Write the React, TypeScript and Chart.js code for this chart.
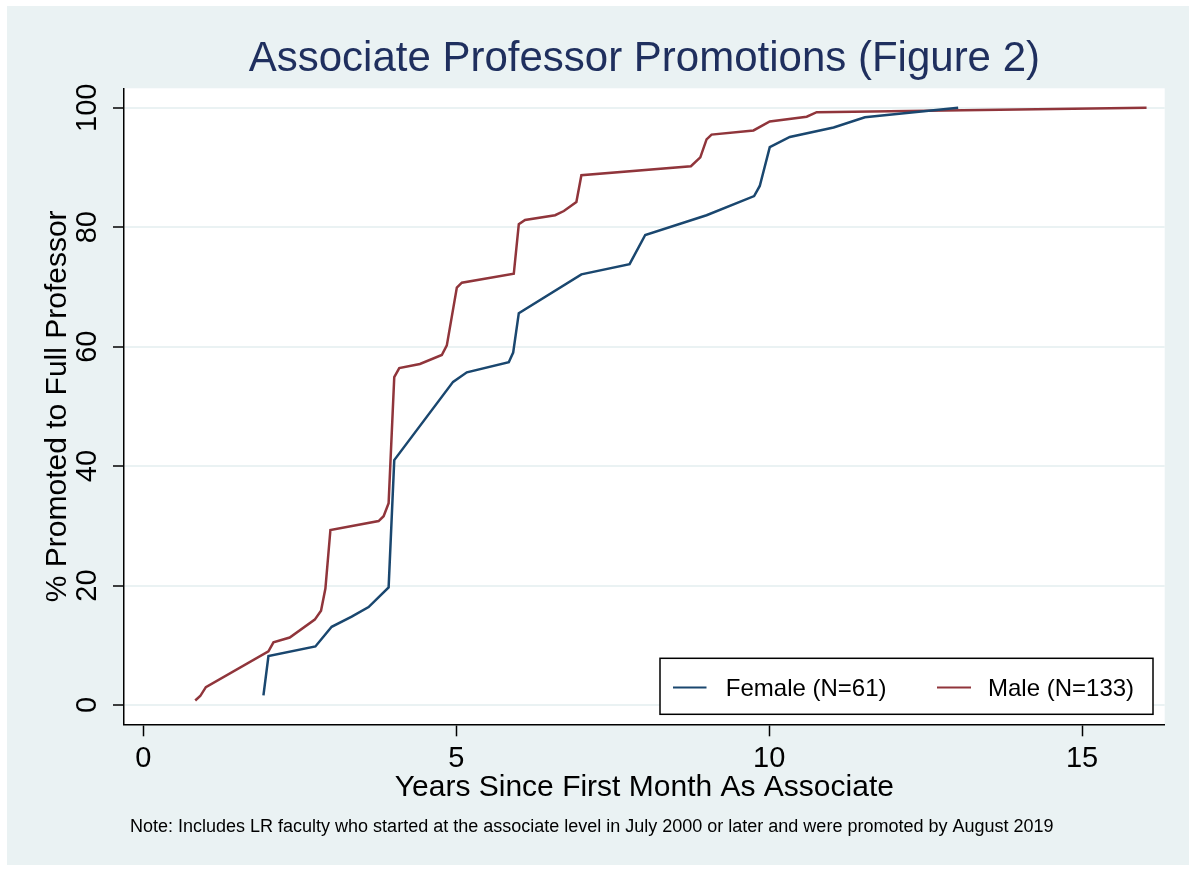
import React, { useEffect, useRef } from 'react';
import { Chart, registerables } from 'chart.js';

Chart.register(...registerables);

// ---- data ----
const femaleYears = [1.92, 2.0, 2.75, 3.01, 3.33, 3.6, 3.92, 4.01, 4.95, 5.17, 5.84, 5.91, 6.0, 7.0, 7.77, 8.02, 9.0, 9.76, 9.85, 10.01, 10.33, 11.03, 11.53, 13.02];
const femalePct = [1.6, 8.2, 9.8, 13.1, 14.8, 16.4, 19.7, 41.0, 54.1, 55.7, 57.4, 59.0, 65.6, 72.1, 73.8, 78.7, 82.0, 85.2, 86.9, 93.4, 95.1, 96.7, 98.4, 100];
const maleYears = [0.83, 0.91, 1.0, 2.0, 2.08, 2.34, 2.74, 2.84, 2.91, 2.99, 3.76, 3.84, 3.92, 4.01, 4.09, 4.42, 4.77, 4.85, 5.01, 5.09, 5.92, 6.0, 6.1, 6.58, 6.72, 6.92, 7.0, 8.75, 8.9, 9.0, 9.08, 9.75, 10.01, 10.6, 10.76, 16.03];
const malePct = [0.75, 1.5, 3.0, 9.0, 10.5, 11.3, 14.3, 15.8, 19.5, 29.3, 30.8, 31.6, 33.8, 54.9, 56.4, 57.1, 58.6, 60.2, 69.9, 70.7, 72.2, 80.5, 81.2, 82.0, 82.7, 84.2, 88.7, 90.2, 91.7, 94.7, 95.5, 96.2, 97.7, 98.5, 99.25, 100];
const xTicks = [0, 5, 10, 15];
const yTicks = [0, 20, 40, 60, 80, 100];
const seriesLabels = ['Female (N=61)', 'Male (N=133)'];
const seriesColors = ['#1A476F', '#90353B'];
const titleText = 'Associate Professor Promotions (Figure 2)';
const xTitle = 'Years Since First Month As Associate';
const yTitle = '% Promoted to Full Professor';
const noteText = 'Note: Includes LR faculty who started at the associate level in July 2000 or later and were promoted by August 2019';

const FONT = '"Liberation Sans", Arial, Helvetica, sans-serif';
const BG = '#EAF2F3';
const W = 1182;
const H = 859;

const plotBgPlugin = {
  id: 'plotBg',
  beforeDraw(chart: any) {
    const { ctx, chartArea } = chart;
    ctx.save();
    ctx.fillStyle = '#ffffff';
    ctx.fillRect(chartArea.left, chartArea.top, chartArea.right - chartArea.left, chartArea.bottom - chartArea.top);
    ctx.restore();
  },
};

const extrasPlugin = {
  id: 'extras',
  afterDraw(chart: any) {
    const { ctx, chartArea } = chart;
    const yScale = chart.scales.y;
    ctx.save();
    // rotated y tick labels
    ctx.fillStyle = '#000';
    ctx.font = `29px ${FONT}`;
    ctx.textAlign = 'center';
    ctx.textBaseline = 'middle';
    yTicks.forEach((v) => {
      const py = yScale.getPixelForValue(v);
      ctx.save();
      ctx.translate(chartArea.left - 35.7, py);
      ctx.rotate(-Math.PI / 2);
      ctx.fillText(String(v), 0, 0);
      ctx.restore();
    });
    // legend
    const bx = 653, by = 652.3, bw = 493, bh = 56;
    ctx.fillStyle = '#ffffff';
    ctx.fillRect(bx, by, bw, bh);
    ctx.strokeStyle = '#000';
    ctx.lineWidth = 1.5;
    ctx.strokeRect(bx, by, bw, bh);
    const items = [
      { x0: 666, x1: 699.5, tx: 718.8 },
      { x0: 930, x1: 964, tx: 981 },
    ];
    ctx.font = `24px ${FONT}`;
    ctx.textAlign = 'left';
    ctx.textBaseline = 'middle';
    items.forEach((it, i) => {
      ctx.strokeStyle = seriesColors[i];
      ctx.lineWidth = 2;
      ctx.beginPath();
      ctx.moveTo(it.x0, 681.5);
      ctx.lineTo(it.x1, 681.5);
      ctx.stroke();
      ctx.fillStyle = '#000';
      ctx.fillText(seriesLabels[i], it.tx, 683);
    });
    // note
    ctx.font = `18px ${FONT}`;
    ctx.textBaseline = 'alphabetic';
    ctx.fillStyle = '#000';
    ctx.fillText(noteText, 123, 825.7);
    ctx.restore();
  },
};

export default function App() {
  const canvasRef = useRef<HTMLCanvasElement | null>(null);

  useEffect(() => {
    const canvas = canvasRef.current;
    if (!canvas) return;
    const chart = new Chart(canvas, {
      type: 'line',
      data: {
        datasets: [
          {
            label: seriesLabels[0],
            data: femaleYears.map((x, i) => ({ x, y: femalePct[i] })),
            borderColor: seriesColors[0],
            backgroundColor: seriesColors[0],
            borderWidth: 2.5,
            pointRadius: 0,
            tension: 0,
            fill: false,
          },
          {
            label: seriesLabels[1],
            data: maleYears.map((x, i) => ({ x, y: malePct[i] })),
            borderColor: seriesColors[1],
            backgroundColor: seriesColors[1],
            borderWidth: 2.5,
            pointRadius: 0,
            tension: 0,
            fill: false,
          },
        ],
      },
      options: {
        responsive: false,
        animation: false,
        devicePixelRatio: 1,
        layout: { padding: { left: 0, top: 0, right: 24.3, bottom: 0 } },
        plugins: {
          legend: { display: false },
          tooltip: { enabled: false },
          title: {
            display: true,
            text: titleText,
            fullSize: false,
            color: '#1F2F5E',
            font: { family: FONT, size: 42, weight: 'normal' },
            padding: { top: 28, bottom: 3.9 },
          },
        },
        scales: {
          x: {
            type: 'linear',
            min: -0.308,
            max: 16.32,
            afterBuildTicks: (scale: any) => {
              scale.ticks = xTicks.map((v) => ({ value: v }));
            },
            afterFit: (scale: any) => {
              scale.height = 140.7;
            },
            ticks: {
              color: '#000',
              font: { family: FONT, size: 29 },
              padding: 5.3,
              maxRotation: 0,
              minRotation: 0,
            },
            grid: {
              drawOnChartArea: false,
              drawTicks: true,
              tickLength: 12,
              tickColor: '#000',
              tickWidth: 1.5,
            },
            border: { display: true, color: '#000', width: 1.5 },
            title: {
              display: true,
              text: xTitle,
              color: '#000',
              font: { family: FONT, size: 30 },
              padding: { top: 0, bottom: 59.5 },
            },
          },
          y: {
            type: 'linear',
            min: -3.23,
            max: 103.25,
            afterBuildTicks: (scale: any) => {
              scale.ticks = yTicks.map((v) => ({ value: v }));
            },
            afterFit: (scale: any) => {
              scale.width = 117;
            },
            ticks: { display: false },
            grid: {
              color: BG,
              lineWidth: 2,
              drawTicks: true,
              tickLength: 11,
              tickColor: '#000',
              tickWidth: 1.5,
            },
            border: { display: true, color: '#000', width: 1.5 },
            title: {
              display: true,
              text: yTitle,
              color: '#000',
              font: { family: FONT, size: 30 },
              padding: { top: 32.5, bottom: 0 },
            },
          },
        },
      },
      plugins: [plotBgPlugin, extrasPlugin],
    } as any);
    return () => chart.destroy();
  }, []);

  return (
    <div
      style={{
        position: 'absolute',
        left: 7,
        top: 6,
        width: W,
        height: H,
        background: BG,
      }}
    >
      <canvas ref={canvasRef} width={W} height={H} style={{ display: 'block', width: W, height: H }} />
    </div>
  );
}
